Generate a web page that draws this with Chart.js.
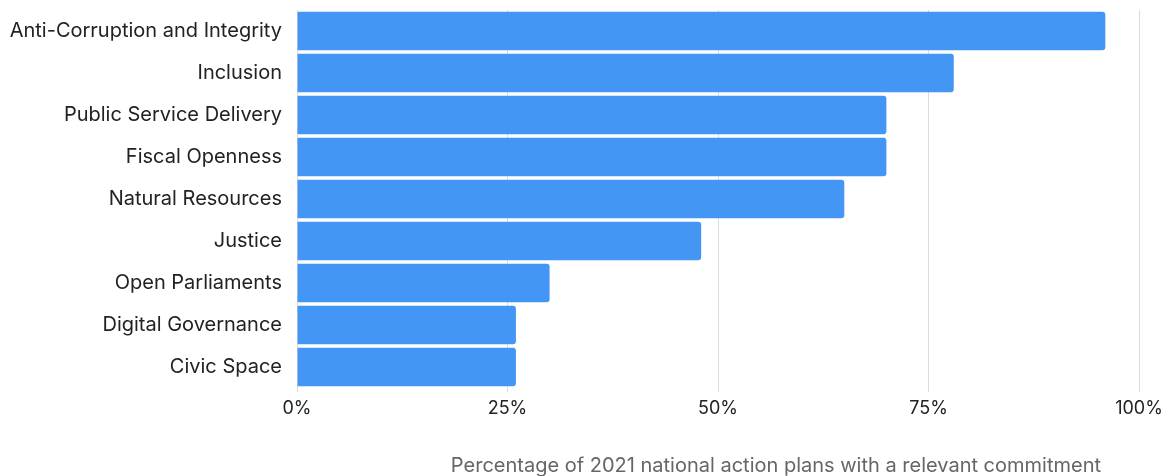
<!DOCTYPE html>
<html>
<head>
<meta charset="utf-8">
<script src="https://cdn.jsdelivr.net/npm/chart.js@4"></script>
<style>
  html, body { margin: 0; padding: 0; background: #fff; }
  #wrap { width: 1172px; height: 476px; }
</style>
</head>
<body>
<div id="wrap"><canvas id="myChart"></canvas></div>
<script>
const categories = [
  "Anti-Corruption and Integrity",
  "Inclusion",
  "Public Service Delivery",
  "Fiscal Openness",
  "Natural Resources",
  "Justice",
  "Open Parliaments",
  "Digital Governance",
  "Civic Space"
];
const shares = [96, 78, 70, 70, 65, 48, 30, 26, 26];
const xTicks = [0, 25, 50, 75, 100];
const axisTitle = "Percentage of 2021 national action plans with a relevant commitment";

// titulo do eixo x desenhado a mao, alinhado um pouco antes da borda direita
const bottomTitle = {
  id: "bottomTitle",
  afterDraw(chart) {
    const { ctx, chartArea } = chart;
    ctx.save();
    ctx.font = "20px Inter";
    ctx.fillStyle = "#666";
    ctx.textAlign = "right";
    ctx.textBaseline = "alphabetic";
    ctx.fillText(axisTitle, chartArea.right - 38, chart.height - 4);
    ctx.restore();
  }
};

new Chart(document.getElementById("myChart"), {
  type: "bar",
  data: {
    labels: categories,
    datasets: [{
      data: shares,
      backgroundColor: "#4496F5",
      borderRadius: { topRight: 3, bottomRight: 3 },
      borderSkipped: false,
      barPercentage: 0.92,
      categoryPercentage: 1
    }]
  },
  options: {
    indexAxis: "y",
    responsive: true,
    maintainAspectRatio: false,
    animation: false,
    layout: { padding: { top: 10, right: 0, bottom: 50, left: 0 } },
    plugins: { legend: { display: false }, tooltip: { enabled: false } },
    scales: {
      x: {
        min: 0,
        max: 100,
        afterBuildTicks: (scale) => { scale.ticks = xTicks.map((v) => ({ value: v })); },
        afterFit: (scale) => {
          scale.height = 38;
          scale.paddingRight = 33;
        },
        ticks: {
          callback: (v) => v + "%",
          color: "#222",
          font: { family: "Inter", size: 18 },
          padding: 6,
          maxRotation: 0
        },
        grid: { color: "#dcdcdc", drawTicks: true, tickLength: 4 },
        border: { display: false }
      },
      y: {
        afterFit: (scale) => {
          scale.width = 297;
          scale.paddingTop = 0;
          scale.paddingBottom = 0;
        },
        ticks: {
          color: "#222",
          font: { family: "Inter", size: 20 },
          padding: 15
        },
        grid: { display: false, drawTicks: false },
        border: { display: false }
      }
    }
  },
  plugins: [bottomTitle]
});
</script>
</body>
</html>
